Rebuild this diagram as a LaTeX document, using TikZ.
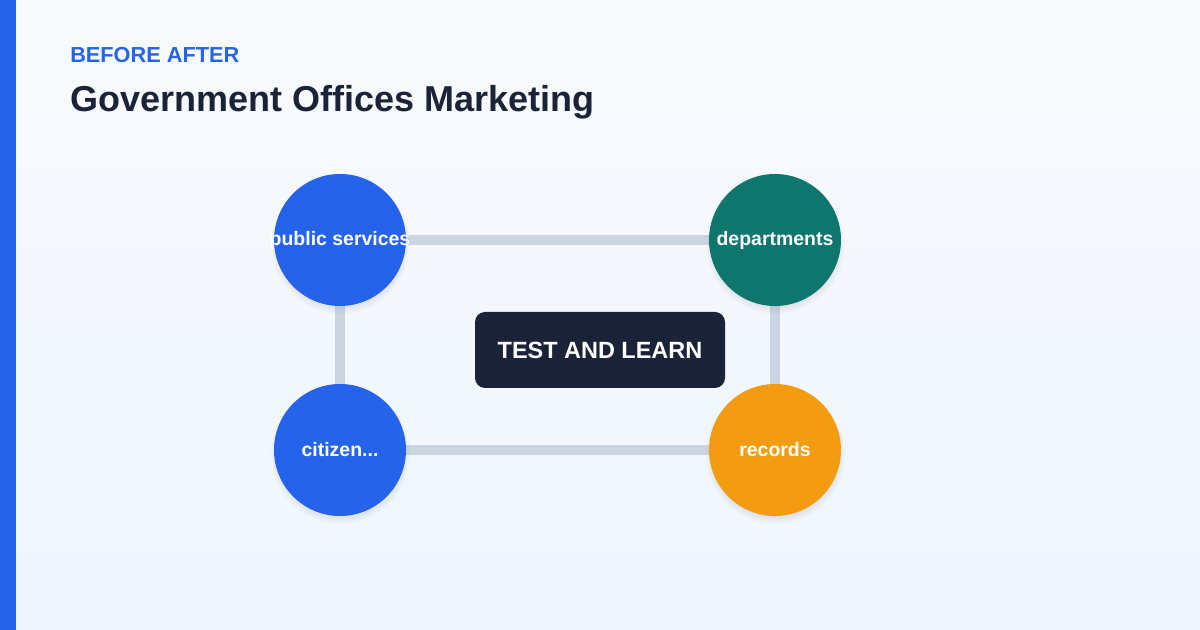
\documentclass[tikz,border=0pt]{standalone}
\usepackage{fontspec}
\setmainfont{Liberation Sans}
\usepackage{tikz}
\usetikzlibrary{shadows}
\definecolor{bgtop}{HTML}{F8FAFC}
\definecolor{bgbot}{HTML}{EFF6FF}
\definecolor{accent}{HTML}{2563EB}
\definecolor{ink}{HTML}{1A2338}
\definecolor{linkc}{HTML}{CBD5E1}
\definecolor{tealc}{HTML}{0F766E}
\definecolor{amber}{HTML}{F39C12}
\pgfdeclarelayer{back}
\pgfdeclarelayer{links}
\pgfsetlayers{back,links,main}

\begin{document}
\begin{tikzpicture}[x=0.75pt,y=-0.75pt,
  hub/.style={circle,fill=#1,minimum size=99pt,inner sep=0pt,
    font=\bfseries\fontsize{14.6}{17}\selectfont,text=white,
    circular drop shadow={shadow xshift=0pt,shadow yshift=-3pt,shadow scale=1.06,opacity=0.18,fill=black!60}},
  link/.style={linkc,line width=7.5pt},
  core/.style={rectangle,rounded corners=7.5pt,fill=ink,text=white,
    minimum width=187.5pt,minimum height=57pt,
    font=\bfseries\fontsize{17.6}{21}\selectfont}]
\useasboundingbox (0,0) rectangle (1200,630);
% background and side bar
\begin{pgfonlayer}{back}
\shade[top color=bgtop,bottom color=bgbot] (0,0) rectangle (1200,630);
\fill[accent] (0,0) rectangle (16,630);
\end{pgfonlayer}
% heading
\node[anchor=base west,inner sep=0pt,text=accent,font=\bfseries\fontsize{16.3}{19}\selectfont] (kicker) at (70,63) {BEFORE AFTER};
\node[anchor=base west,inner sep=0pt,text=ink,font=\bfseries\fontsize{27}{32}\selectfont] (title) at (70,112) {Government Offices Marketing};
% stations
\node[hub=accent] (pub) at (340,240) {\makebox[0pt]{public services}};
\node[hub=tealc] (dep) at (775,240) {departments};
\node[hub=accent] (cit) at (340,450) {citizen...};
\node[hub=amber] (rec) at (775,450) {records};
% ring of links, behind the circles
\begin{pgfonlayer}{links}
\foreach \a/\b in {pub/dep,dep/rec,rec/cit,cit/pub} {
  \draw[link] (\a.center) -- (\b.center);
}
\end{pgfonlayer}
\node[core] (hubbox) at (600,350) {TEST AND LEARN};
\end{tikzpicture}
\end{document}
